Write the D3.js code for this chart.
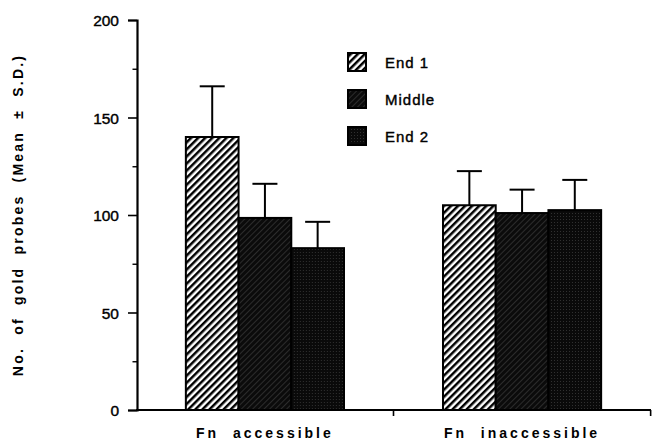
<!DOCTYPE html>
<html><head><meta charset="utf-8">
<script src="https://cdn.jsdelivr.net/npm/d3@7"></script>
<style>
body{margin:0;background:#fff;}
svg text{font-family:"Liberation Sans",Arial,sans-serif;fill:#000;}
</style></head>
<body><svg id="c" width="655" height="442"></svg>
<script>
const categories = ["Fn  accessible", "Fn  inaccessible"];
const seriesNames = ["End 1", "Middle", "End 2"];
const means = [[140, 98.5, 83], [105, 101, 102.5]];
const sds = [[26, 17.5, 13.5], [17.5, 12, 15.5]];
const yTicks = [0, 50, 100, 150, 200];
const yMinor = [25, 75, 125, 175];
const yTitle = "No.  of  gold  probes  (Mean  ±  S.D.)";

const svg = d3.select("#c");
const defs = svg.append("defs");
// End 1: white with black diagonal stripes
const p1 = defs.append("pattern").attr("id","p1").attr("patternUnits","userSpaceOnUse")
  .attr("width",5).attr("height",5).attr("patternTransform","rotate(45)");
p1.append("rect").attr("width",5).attr("height",5).attr("fill","#fff");
p1.append("rect").attr("x",0).attr("width",2.5).attr("height",5).attr("fill","#000");
// Middle: near black with faint diagonal lines
const p2 = defs.append("pattern").attr("id","p2").attr("patternUnits","userSpaceOnUse")
  .attr("width",4).attr("height",4).attr("patternTransform","rotate(45)");
p2.append("rect").attr("width",4).attr("height",4).attr("fill","#0b0b0b");
p2.append("rect").attr("x",0).attr("y",0).attr("width",0.7).attr("height",4).attr("fill","#3a3a3a");
// End 2: near black stipple
const p3 = defs.append("pattern").attr("id","p3").attr("patternUnits","userSpaceOnUse")
  .attr("width",3).attr("height",3);
p3.append("rect").attr("width",3).attr("height",3).attr("fill","#0a0a0a");
p3.append("rect").attr("x",0).attr("y",0).attr("width",1).attr("height",1).attr("fill","#303030");
const fills = ["url(#p1)","url(#p2)","url(#p3)"];

const y = d3.scaleLinear().domain([0,200]).range([410,20]);
const x0 = d3.scaleBand().domain(categories).range([137,650]).paddingInner(0.385).paddingOuter(0.19);
const x1 = d3.scaleBand().domain(seriesNames).range([0, x0.bandwidth()]).padding(0);

// bars
categories.forEach((c,ci)=>{
  const g = svg.append("g").attr("transform",`translate(${x0(c)},0)`);
  seriesNames.forEach((s,si)=>{
    const v = means[ci][si], e = sds[ci][si];
    const cx = x1(s)+x1.bandwidth()/2;
    g.append("line").attr("x1",cx).attr("x2",cx).attr("y1",y(v)).attr("y2",y(v+e))
      .attr("stroke","#000").attr("stroke-width",2);
    g.append("line").attr("x1",cx-12.5).attr("x2",cx+12.5).attr("y1",y(v+e)).attr("y2",y(v+e))
      .attr("stroke","#000").attr("stroke-width",2);
    g.append("rect").attr("x",x1(s)).attr("y",y(v)).attr("width",x1.bandwidth()).attr("height",y(0)-y(v))
      .attr("fill",fills[si]).attr("stroke","#000").attr("stroke-width",2);
  });
});

// y axis
const ya = svg.append("g").attr("transform","translate(137,0)");
ya.call(d3.axisLeft(y).tickValues(yTicks).tickSize(9).tickPadding(9).tickFormat(d3.format("d")));
ya.select(".domain").attr("stroke-width",2.2);
ya.selectAll(".tick line").attr("stroke-width",1.6);
ya.selectAll(".tick text").style("font-size","15.5px").attr("dy","0.36em")
  .attr("stroke","#000").attr("stroke-width",0.4);
const ym = svg.append("g").attr("transform","translate(137,0)");
ym.call(d3.axisLeft(y).tickValues(yMinor).tickSize(4.5).tickFormat(""));
ym.select(".domain").remove();
ym.selectAll(".tick line").attr("stroke-width",1.4);

// x axis line
svg.append("line").attr("x1",136).attr("x2",651).attr("y1",y(0)).attr("y2",y(0))
  .attr("stroke","#000").attr("stroke-width",2);
categories.forEach(c=>{
  const bx = x0(c)+x0.bandwidth()+x0.step()*x0.paddingInner()/2;
  svg.append("line").attr("x1",bx).attr("x2",bx).attr("y1",y(0)).attr("y2",y(0)+6)
    .attr("stroke","#000").attr("stroke-width",1.6);
  svg.append("text").attr("x",x0(c)+x0.bandwidth()/2).attr("y",438).attr("text-anchor","middle")
    .style("font-size","14px").style("font-weight","bold").style("letter-spacing","3px")
    .style("white-space","pre").text(c);
});

// y title
svg.append("text").attr("transform","translate(23,215) rotate(-90)").attr("text-anchor","middle")
  .style("font-size","14px").style("font-weight","bold").style("letter-spacing","2.2px")
  .style("white-space","pre").text(yTitle);

// legend
const lg = svg.append("g");
seriesNames.forEach((s,i)=>{
  const ly = 53 + i*37;
  lg.append("rect").attr("x",348).attr("y",ly).attr("width",18).attr("height",18)
    .attr("fill",fills[i]).attr("stroke","#000").attr("stroke-width",2);
  lg.append("text").attr("x",385).attr("y",ly+15).style("font-size","15px")
    .style("letter-spacing","1px").attr("stroke","#000").attr("stroke-width",0.4).text(s);
});
</script></body></html>
